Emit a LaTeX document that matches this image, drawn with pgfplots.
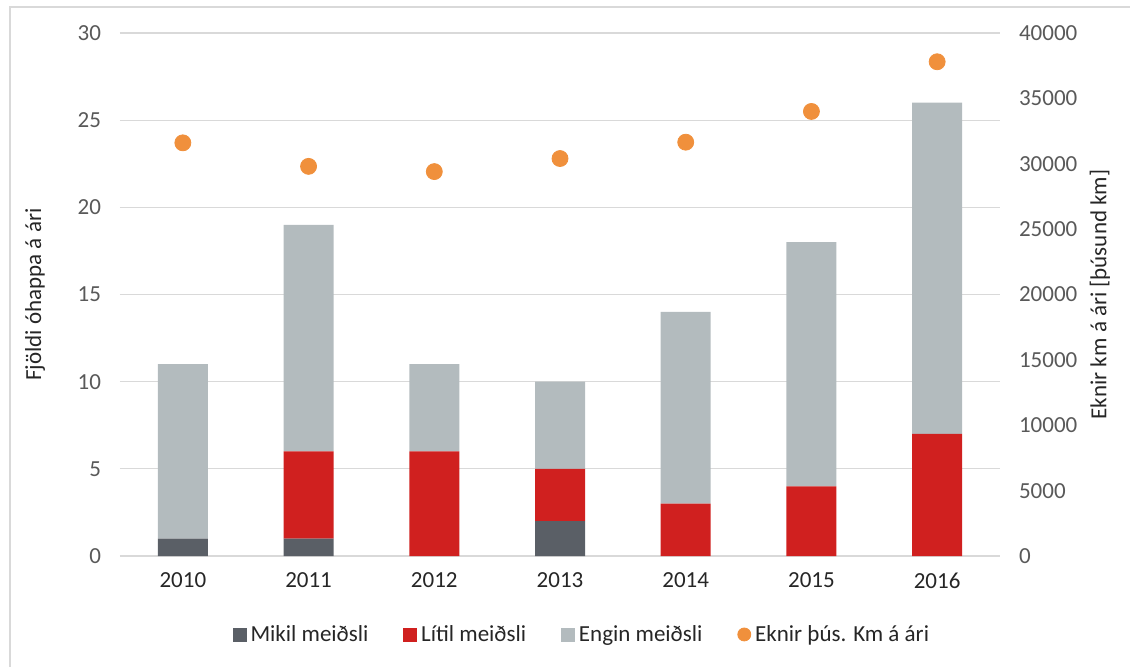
\documentclass[border=0pt]{standalone}
\usepackage{fontspec}
\setmainfont{Carlito}
\usepackage{pgfplots}
\pgfplotsset{compat=1.18}
\definecolor{mikil}{HTML}{5A5F66}
\definecolor{litil}{HTML}{D0201F}
\definecolor{engin}{HTML}{B3BBBE}
\definecolor{eknir}{HTML}{F0903C}
\definecolor{gridc}{HTML}{D9D9D9}
\definecolor{txtgray}{HTML}{595959}
\definecolor{txtdark}{HTML}{262626}
\definecolor{framec}{HTML}{D9D9D9}
\newcommand{\cf}{\fontsize{11.5}{13}\selectfont}
\begin{document}
\begin{tikzpicture}[x=1pt,y=1pt]
\useasboundingbox (0,0) rectangle (565,333);
\draw[framec, line width=0.6pt] (5,-5) rectangle (575,329.5);
\begin{axis}[
  at={(60pt,55pt)}, anchor=south west, scale only axis,
  width=440pt, height=261.5pt,
  xmin=-0.5, xmax=6.5, ymin=0, ymax=30,
  ytick={0,5,...,30},
  xtick={0,...,6}, xticklabels={2010,2011,2012,2013,2014,2015,2016},
  ybar stacked, bar width=25pt,
  axis line style={draw=none}, major tick length=0pt,
  ymajorgrids, grid style={gridc, line width=0.6pt},
  /pgf/number format/assume math mode=true,
  yticklabel style={font=\cf, text=txtgray, xshift=-6pt},
  xticklabel style={font=\cf, text=txtdark, yshift=-5pt},
  ylabel={Fjöldi óhappa á ári},
  ylabel style={font=\cf, text=txtdark, at={(axis description cs:-0.0966,0.5)}, anchor=center},
]
\addplot[fill=mikil, draw=none] coordinates {(0,1)(1,1)(2,0)(3,2)(4,0)(5,0)(6,0)};
\addplot[fill=litil, draw=none] coordinates {(0,0)(1,5)(2,6)(3,3)(4,3)(5,4)(6,7)};
\addplot[fill=engin, draw=none] coordinates {(0,10)(1,13)(2,5)(3,5)(4,11)(5,14)(6,19)};
\end{axis}
\begin{axis}[
  at={(60pt,55pt)}, anchor=south west, scale only axis,
  width=440pt, height=261.5pt,
  xmin=-0.5, xmax=6.5, ymin=0, ymax=40000,
  ytick={0,5000,...,40000}, scaled y ticks=false,
  hide x axis, axis y line*=right,
  axis line style={draw=none}, major tick length=0pt,
  /pgf/number format/1000 sep={},
  /pgf/number format/assume math mode=true,
  yticklabel style={font=\cf, text=txtgray, xshift=6pt},
  ylabel={Eknir km á ári [þúsund km]},
  ylabel style={font=\cf, text=txtdark, at={(axis description cs:1.1136,0.5)}, anchor=center, rotate=0},
  legend columns=-1,
  legend style={draw=none, fill=none, font=\cf, text=txtdark,
    at={(axis description cs:0.526,-0.151)}, anchor=center,
    nodes={inner xsep=2pt},
    /tikz/every even column/.append style={column sep=15.5pt}},
]
\addlegendimage{legend image code/.code={\fill[mikil] (0pt,-3pt) rectangle (6.5pt,3.5pt);}}
\addlegendentry{Mikil meiðsli}
\addlegendimage{legend image code/.code={\fill[litil] (0pt,-3pt) rectangle (6.5pt,3.5pt);}}
\addlegendentry{Lítil meiðsli}
\addlegendimage{legend image code/.code={\fill[engin] (0pt,-3pt) rectangle (6.5pt,3.5pt);}}
\addlegendentry{Engin meiðsli}
\addlegendimage{legend image code/.code={\fill[eknir] (3.25pt,0.25pt) circle (3.25pt);}}
\addlegendentry{Eknir þús. Km á ári}
\addplot[only marks, mark=*, mark size=4pt, color=eknir, forget plot] coordinates {(0,31600)(1,29800)(2,29400)(3,30400)(4,31650)(5,34000)(6,37800)};
\end{axis}
\end{tikzpicture}
\end{document}
